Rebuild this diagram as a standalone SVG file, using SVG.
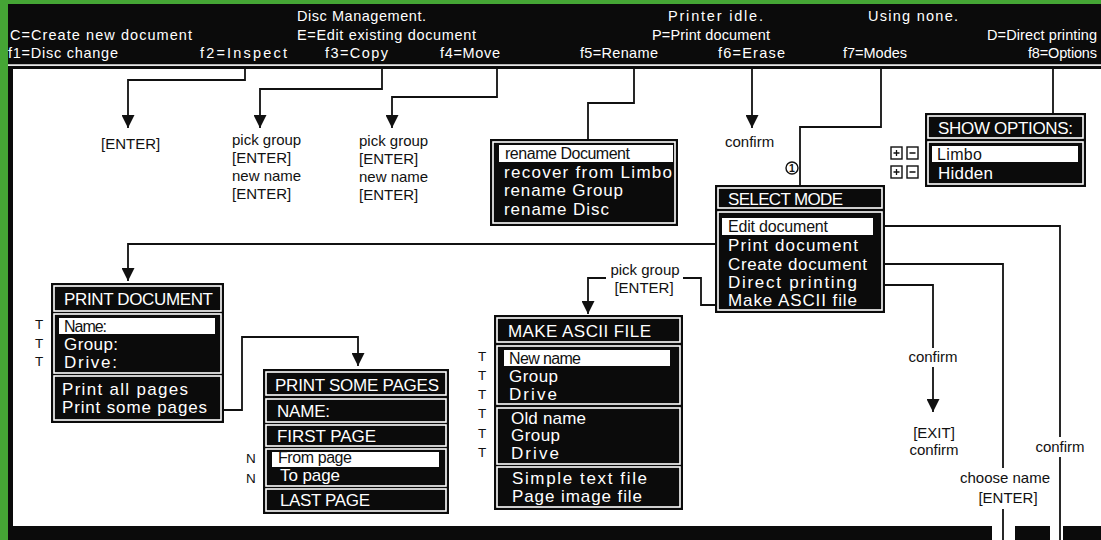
<svg xmlns="http://www.w3.org/2000/svg" width="1101" height="540" viewBox="0 0 1101 540">
<defs>
<style>
.hd{font-family:"Liberation Sans",Arial,sans-serif;font-size:14.5px;fill:#fff}
.lb{font-family:"Liberation Sans",Arial,sans-serif;font-size:15px;fill:#111}
.sm{font-family:"Liberation Sans",Arial,sans-serif;font-size:13.5px;fill:#111}
.it{font-family:"Liberation Sans",Arial,sans-serif;font-size:17px;fill:#fff}
.dk{font-family:"Liberation Sans",Arial,sans-serif;font-size:16px;fill:#111}
.box{fill:#0b0b0b}
.sec{fill:#0b0b0b;stroke:#fff;stroke-width:1.6}
.bar{fill:#fff}
.ln{stroke:#111;stroke-width:1.8;fill:none}
.pm{fill:#fff;stroke:#111;stroke-width:1.4}
</style>
<marker id="ar" markerUnits="userSpaceOnUse" markerWidth="13" markerHeight="13" refX="13" refY="6.5" orient="auto">
<path d="M0,0 L13,6.5 L0,13 Z" fill="#111"/>
</marker>
</defs>

<rect x="0" y="0" width="1101" height="540" fill="#45a535"/>
<rect x="8" y="4" width="1093" height="536" fill="#0b0b0b"/>
<rect x="13" y="69" width="1088" height="457" fill="#fff"/>
<rect x="992" y="526" width="23" height="14" fill="#fff"/>
<rect x="1050" y="526" width="13" height="14" fill="#fff"/>

<g id="header">
<rect x="8" y="64.3" width="1093" height="1.6" fill="#fff"/>
<text class="hd" x="297" y="21" textLength="129" lengthAdjust="spacing">Disc Management.</text>
<text class="hd" x="668" y="21" textLength="95" lengthAdjust="spacing">Printer idle.</text>
<text class="hd" x="868" y="21" textLength="90" lengthAdjust="spacing">Using none.</text>
<text class="hd" x="10" y="40" textLength="182" lengthAdjust="spacing">C=Create new document</text>
<text class="hd" x="297" y="40" textLength="179" lengthAdjust="spacing">E=Edit existing document</text>
<text class="hd" x="652" y="40" textLength="118" lengthAdjust="spacing">P=Print document</text>
<text class="hd" x="987" y="40" textLength="110" lengthAdjust="spacing">D=Direct printing</text>
<text class="hd" x="8" y="58" textLength="110" lengthAdjust="spacing">f1=Disc change</text>
<text class="hd" x="200" y="58" textLength="87" lengthAdjust="spacing">f2=Inspect</text>
<text class="hd" x="325" y="58" textLength="63" lengthAdjust="spacing">f3=Copy</text>
<text class="hd" x="440" y="58" textLength="60" lengthAdjust="spacing">f4=Move</text>
<text class="hd" x="580" y="58" textLength="78" lengthAdjust="spacing">f5=Rename</text>
<text class="hd" x="718" y="58" textLength="67" lengthAdjust="spacing">f6=Erase</text>
<text class="hd" x="843" y="58" textLength="64" lengthAdjust="spacing">f7=Modes</text>
<text class="hd" x="1028" y="58" textLength="69" lengthAdjust="spacing">f8=Options</text>
</g>

<g id="connectors">
<path class="ln" d="M245,69 V80 H128 V128" marker-end="url(#ar)"/>
<path class="ln" d="M382,69 V89 H260 V128" marker-end="url(#ar)"/>
<path class="ln" d="M497,69 V97 H392 V128" marker-end="url(#ar)"/>
<path class="ln" d="M634,69 V103 H588 V139"/>
<path class="ln" d="M752,69 V128" marker-end="url(#ar)"/>
<path class="ln" d="M881,69 V127 H800 V185"/>
<path class="ln" d="M1053,69 V113"/>
<path class="ln" d="M715,244 H128 V281" marker-end="url(#ar)"/>
<path class="ln" d="M715,305 H701 V278 H683"/>
<path class="ln" d="M606,278 H588 V314" marker-end="url(#ar)"/>
<path class="ln" d="M885,226 H1060 V437"/>
<path class="ln" d="M1060,457 V540"/>
<path class="ln" d="M885,264 H1003 V468"/>
<path class="ln" d="M1003,509 V540"/>
<path class="ln" d="M885,285 H933 V348"/>
<path class="ln" d="M933,367 V412" marker-end="url(#ar)"/>
<path class="ln" d="M224,410 H242 V337 H358 V366" marker-end="url(#ar)"/>
</g>

<g id="label-inspect">
<text class="lb" x="101" y="149">[ENTER]</text>
</g>
<g id="label-copy">
<text class="lb" x="232" y="145">pick group</text>
<text class="lb" x="232" y="163">[ENTER]</text>
<text class="lb" x="232" y="181">new name</text>
<text class="lb" x="232" y="199">[ENTER]</text>
</g>
<g id="label-move">
<text class="lb" x="359" y="146">pick group</text>
<text class="lb" x="359" y="164">[ENTER]</text>
<text class="lb" x="359" y="182">new name</text>
<text class="lb" x="359" y="200">[ENTER]</text>
</g>
<g id="label-erase">
<text class="lb" x="725" y="147">confirm</text>
</g>
<g id="label-modes">
<circle cx="792" cy="168" r="6" fill="#fff" stroke="#111" stroke-width="1.4"/>
<text x="792" y="172" text-anchor="middle" font-family="Liberation Sans, Arial, sans-serif" font-size="10.5" font-weight="bold" fill="#111">1</text>
</g>
<g id="label-ascii">
<text class="lb" x="645" y="275" text-anchor="middle">pick group</text>
<text class="lb" x="644" y="293" text-anchor="middle">[ENTER]</text>
</g>
<g id="label-direct">
<text class="lb" x="933" y="362" text-anchor="middle">confirm</text>
<text class="lb" x="934" y="438" text-anchor="middle">[EXIT]</text>
<text class="lb" x="934" y="455" text-anchor="middle">confirm</text>
</g>
<g id="label-create">
<text class="lb" x="1005" y="483" text-anchor="middle">choose name</text>
<text class="lb" x="1008" y="503" text-anchor="middle">[ENTER]</text>
</g>
<g id="label-edit">
<text class="lb" x="1060" y="452" text-anchor="middle">confirm</text>
</g>

<g id="node-rename">
<rect class="box" x="490" y="139" width="188" height="87"/>
<rect class="sec" x="493" y="142" width="182" height="81"/>
<rect class="bar" x="499" y="145" width="174" height="17"/>
<text class="dk" x="505" y="159" textLength="125" lengthAdjust="spacing">rename Document</text>
<text class="it" x="504" y="178" textLength="168" lengthAdjust="spacing">recover from Limbo</text>
<text class="it" x="504" y="196" textLength="119" lengthAdjust="spacing">rename Group</text>
<text class="it" x="504" y="214.5" textLength="105" lengthAdjust="spacing">rename Disc</text>
</g>

<g id="node-select-mode">
<rect class="box" x="715" y="185" width="170" height="128"/>
<rect class="sec" x="718" y="188" width="164" height="20"/>
<rect class="sec" x="718" y="212" width="164" height="98"/>
<rect class="bar" x="722" y="218" width="151" height="17"/>
<text class="it" x="728" y="205" textLength="115" lengthAdjust="spacing">SELECT MODE</text>
<text class="dk" x="728" y="232" textLength="100" lengthAdjust="spacing">Edit document</text>
<text class="it" x="728" y="251" textLength="130" lengthAdjust="spacing">Print document</text>
<text class="it" x="728" y="269.5" textLength="139" lengthAdjust="spacing">Create document</text>
<text class="it" x="728" y="287.5" textLength="129" lengthAdjust="spacing">Direct printing</text>
<text class="it" x="728" y="305.5" textLength="129" lengthAdjust="spacing">Make ASCII file</text>
</g>

<g id="node-show-options">
<rect class="box" x="925" y="113" width="161" height="74"/>
<rect class="sec" x="928" y="116" width="155" height="22"/>
<rect class="sec" x="928" y="142" width="155" height="42"/>
<rect class="bar" x="932" y="146" width="146" height="16"/>
<text class="it" x="938" y="134" textLength="135" lengthAdjust="spacing">SHOW OPTIONS:</text>
<text class="dk" x="937" y="160" textLength="45" lengthAdjust="spacing">Limbo</text>
<text class="it" x="938" y="178.5" textLength="55" lengthAdjust="spacing">Hidden</text>
<rect class="pm" x="891" y="147" width="11" height="12"/>
<rect class="pm" x="907" y="147" width="11" height="12"/>
<rect class="pm" x="891" y="166" width="11" height="12"/>
<rect class="pm" x="907" y="166" width="11" height="12"/>
<path class="ln" style="stroke-width:1.3" d="M893.5,153 H899.5 M896.5,150 V156 M909.5,153 H915.5 M893.5,172 H899.5 M896.5,169 V175 M909.5,172 H915.5"/>
</g>

<g id="node-print-document">
<rect class="box" x="51" y="283" width="173" height="140"/>
<rect class="sec" x="54" y="286" width="167" height="25"/>
<rect class="sec" x="54" y="314" width="167" height="59"/>
<rect class="sec" x="54" y="376" width="167" height="44"/>
<rect class="bar" x="59" y="318" width="156" height="16"/>
<text class="it" x="64" y="305" textLength="149" lengthAdjust="spacing">PRINT DOCUMENT</text>
<text class="dk" x="64" y="332" textLength="43" lengthAdjust="spacing">Name:</text>
<text class="it" x="64" y="349.5" textLength="54" lengthAdjust="spacing">Group:</text>
<text class="it" x="64" y="367.5" textLength="53" lengthAdjust="spacing">Drive:</text>
<text class="it" x="62" y="394.5" textLength="126" lengthAdjust="spacing">Print all pages</text>
<text class="it" x="62" y="412.5" textLength="145" lengthAdjust="spacing">Print some pages</text>
<text class="sm" x="35" y="329">T</text>
<text class="sm" x="35" y="348">T</text>
<text class="sm" x="35" y="366">T</text>
</g>

<g id="node-print-some-pages">
<rect class="box" x="263" y="369" width="186" height="145"/>
<rect class="sec" x="266" y="372" width="180" height="23"/>
<rect class="sec" x="266" y="399" width="180" height="23"/>
<rect class="sec" x="266" y="425" width="180" height="21"/>
<rect class="sec" x="266" y="449" width="180" height="37"/>
<rect class="sec" x="266" y="489" width="180" height="22"/>
<rect class="bar" x="272" y="452" width="167" height="15"/>
<text class="it" x="275" y="391" textLength="164" lengthAdjust="spacing">PRINT SOME PAGES</text>
<text class="it" x="277" y="417" textLength="53" lengthAdjust="spacing">NAME:</text>
<text class="it" x="277" y="442" textLength="99" lengthAdjust="spacing">FIRST PAGE</text>
<text class="dk" x="278" y="463" textLength="74" lengthAdjust="spacing">From page</text>
<text class="it" x="280" y="481" textLength="60" lengthAdjust="spacing">To page</text>
<text class="it" x="280" y="506" textLength="90" lengthAdjust="spacing">LAST PAGE</text>
<text class="sm" x="246" y="463">N</text>
<text class="sm" x="246" y="483">N</text>
</g>

<g id="node-make-ascii">
<rect class="box" x="494" y="315" width="189" height="195"/>
<rect class="sec" x="497" y="318" width="183" height="24"/>
<rect class="sec" x="497" y="346" width="183" height="58"/>
<rect class="sec" x="497" y="408" width="183" height="56"/>
<rect class="sec" x="497" y="467" width="183" height="40"/>
<rect class="bar" x="504" y="350" width="166" height="16"/>
<text class="it" x="508" y="337" textLength="143" lengthAdjust="spacing">MAKE ASCII FILE</text>
<text class="dk" x="509" y="364" textLength="72" lengthAdjust="spacing">New name</text>
<text class="it" x="509" y="382" textLength="49" lengthAdjust="spacing">Group</text>
<text class="it" x="509" y="399.5" textLength="48" lengthAdjust="spacing">Drive</text>
<text class="it" x="511" y="424" textLength="75" lengthAdjust="spacing">Old name</text>
<text class="it" x="511" y="441" textLength="49" lengthAdjust="spacing">Group</text>
<text class="it" x="511" y="458.5" textLength="48" lengthAdjust="spacing">Drive</text>
<text class="it" x="512" y="484" textLength="135" lengthAdjust="spacing">Simple text file</text>
<text class="it" x="512" y="501.5" textLength="130" lengthAdjust="spacing">Page image file</text>
<text class="sm" x="478" y="361">T</text>
<text class="sm" x="478" y="380">T</text>
<text class="sm" x="478" y="399">T</text>
<text class="sm" x="478" y="418">T</text>
<text class="sm" x="478" y="438">T</text>
<text class="sm" x="478" y="457">T</text>
</g>
</svg>
